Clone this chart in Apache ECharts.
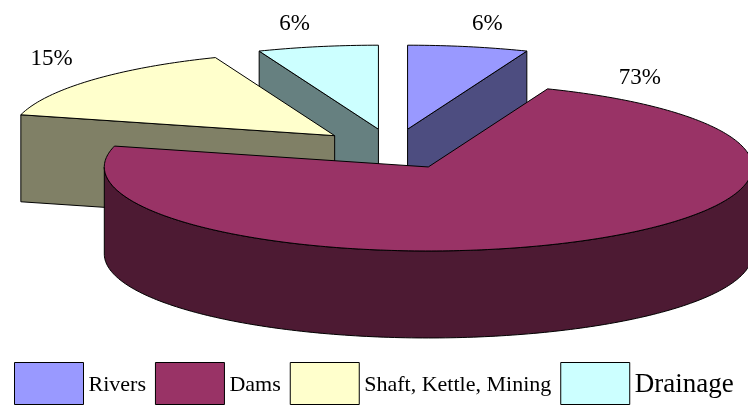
<!DOCTYPE html>
<html>
<head>
<meta charset="utf-8">
<script src="https://cdn.jsdelivr.net/npm/echarts@6/dist/echarts.min.js"></script>
<style>
  html, body { margin: 0; padding: 0; background: #fff; }
  #chart { width: 748px; height: 405px; }
</style>
</head>
<body>
<div id="chart"></div>
<script>
// data
const categories = ['Rivers', 'Dams', 'Shaft, Kettle, Mining', 'Drainage']
const shares = [6, 73, 15, 6]
const topColors = ['#9999FF', '#993366', '#FFFFCC', '#CCFFFF']

// fake 3d pie layout (px)
const cx = 393
const cy = 149
const rx = 324
const ry = 84
const depth = 87
const explode = 0.24
const rimNudge = 12 // deg, where front slices put their label
const serif = '"Liberation Serif", "Times New Roman", serif'

const total = shares.reduce((a, b) => a + b, 0)
const startAngles = []
shares.reduce((acc, v, i) => {
  startAngles[i] = acc
  return acc + (v / total) * 360
}, 0)

const rad = (d) => (d * Math.PI) / 180

const darken = (hex) => {
  const n = parseInt(hex.slice(1), 16)
  const r = (n >> 16) & 255, g = (n >> 8) & 255, b = n & 255
  return 'rgb(' + [r, g, b].map((c) => Math.round(c * 0.5)).join(',') + ')'
}

// angle in degrees, clockwise from 12 o'clock
const edge = (apex, a, dz = 0) => [
  apex[0] + rx * Math.sin(rad(a)),
  apex[1] - ry * Math.cos(rad(a)) + dz
]

const arc = (apex, a, b, dz = 0) => {
  const pts = []
  const n = Math.max(2, Math.ceil(b - a))
  for (let k = 0; k <= n; k++) pts.push(edge(apex, a + ((b - a) * k) / n, dz))
  return pts
}

const makeRender = (i) => (params, api) => {
  const value = api.value(0)
  const a0 = startAngles[i]
  const a1 = a0 + (value / total) * 360
  const mid = (a0 + a1) / 2
  const apex = [
    cx + explode * rx * Math.sin(rad(mid)),
    cy - explode * ry * Math.cos(rad(mid))
  ]
  const top = topColors[i]
  const side = darken(top)
  const line = { stroke: '#000', lineWidth: 1 }
  const children = []

  // outer wall, only the front half shows
  const w0 = Math.max(a0, 90)
  const w1 = Math.min(a1, 270)
  if (w1 > w0) {
    const upper = arc(apex, w0, w1)
    const lower = arc(apex, w0, w1, depth).reverse()
    children.push({
      type: 'polygon',
      shape: { points: upper.concat(lower) },
      style: Object.assign({ fill: side }, line)
    })
  }
  // cut faces
  const cut = (a) => {
    const p = edge(apex, a)
    children.push({
      type: 'polygon',
      shape: { points: [apex, p, [p[0], p[1] + depth], [apex[0], apex[1] + depth]] },
      style: Object.assign({ fill: side }, line)
    })
  }
  if (Math.sin(rad(a0)) < -1e-6) cut(a0)
  if (Math.sin(rad(a1)) > 1e-6) cut(a1)

  // top face
  children.push({
    type: 'polygon',
    shape: { points: [apex].concat(arc(apex, a0, a1)) },
    style: Object.assign({ fill: top }, line)
  })

  // percent label above the rim
  const la = Math.cos(rad(mid)) > 0 ? mid : a0 + rimNudge
  const e = edge(apex, la)
  const s = Math.sin(rad(la))
  children.push({
    type: 'text',
    style: {
      text: Math.round((value / total) * 100) + '%',
      x: e[0] + s * 20 - (s < 0 ? 4 : 0),
      y: e[1] - 23 + (s < -0.5 ? 2 : 0) + (Math.cos(rad(mid)) > 0 ? 0 : 4),
      align: s >= 0 ? 'left' : 'right',
      verticalAlign: 'middle',
      fontFamily: serif,
      fontSize: 23,
      fill: '#000'
    }
  })

  return { type: 'group', children }
}

const chart = echarts.init(document.getElementById('chart'), null, { renderer: 'canvas' })

chart.setOption({
  animation: false,
  backgroundColor: '#fff',
  legend: {
    left: 14,
    top: 362,
    icon: 'rect',
    itemWidth: 69,
    itemHeight: 42,
    itemGap: 9,
    padding: 0,
    itemStyle: { borderColor: '#000', borderWidth: 1 },
    data: categories,
    formatter: (name) =>
      categories.indexOf(name) === categories.length - 1 ? '{big|' + name + '}' : '{n|' + name + '}',
    textStyle: {
      color: '#000',
      fontFamily: serif,
      rich: {
        n: { fontSize: 22, fontFamily: serif, color: '#000', padding: [3, 0, 0, 0] },
        big: { fontSize: 27, fontFamily: serif, color: '#000', padding: [2, 0, 0, 0] }
      }
    }
  },
  series: categories.map((name, i) => {
    const mid = startAngles[i] + (shares[i] / total) * 180
    return {
      type: 'custom',
      name,
      coordinateSystem: 'none',
      // slices nearer the viewer are painted later
      z: 20 + Math.round(-Math.cos(rad(mid)) * 10),
      itemStyle: { color: topColors[i] },
      renderItem: makeRender(i),
      data: [[shares[i]]]
    }
  })
})
</script>
</body>
</html>
